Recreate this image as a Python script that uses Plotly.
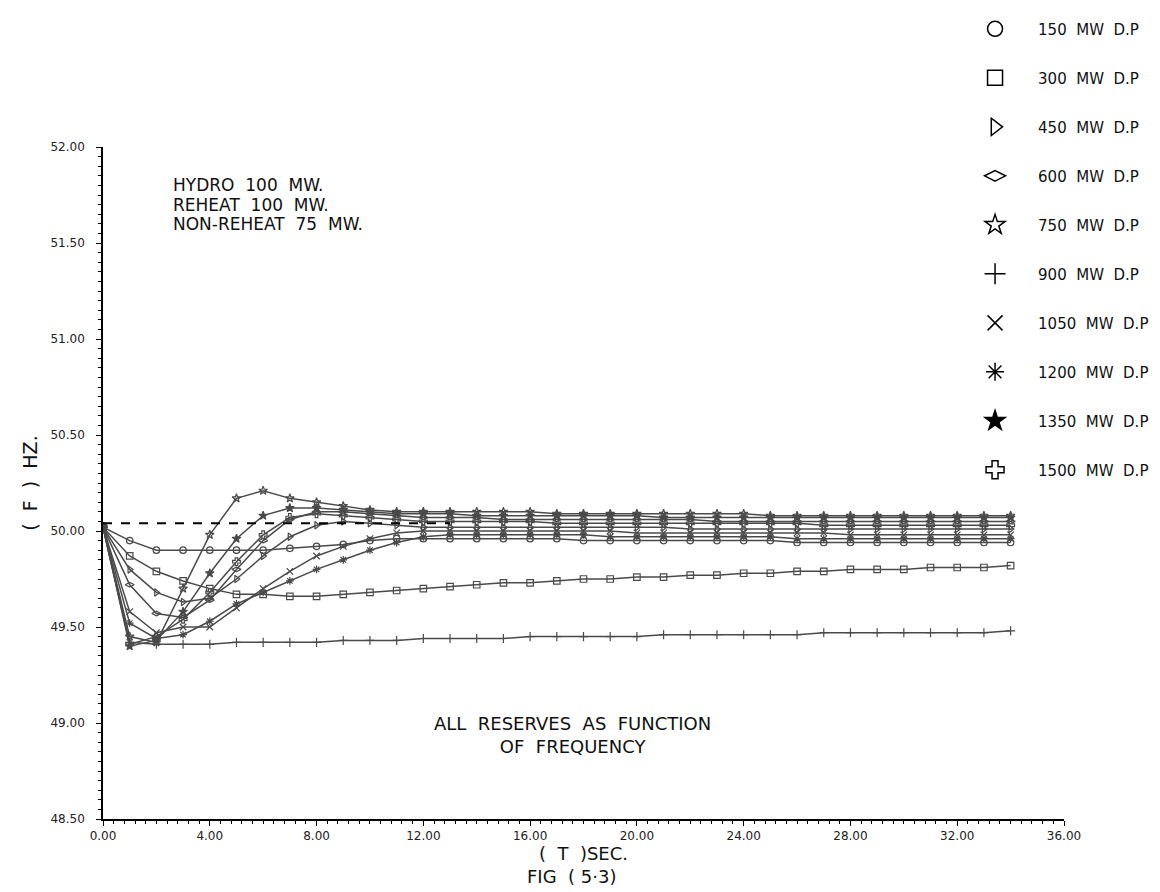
import plotly.graph_objects as go

# time axis, one reading per second
t_sec = list(range(35))

# frequency (Hz) for each disturbance power (MW D.P)
f_150 = [50.02, 49.95, 49.90, 49.90, 49.90, 49.90, 49.90, 49.91, 49.92, 49.93, 49.95, 49.96, 49.96,
         49.96, 49.96, 49.96, 49.96, 49.96, 49.95, 49.95, 49.95, 49.95, 49.95, 49.95, 49.95, 49.95,
         49.94, 49.94, 49.94, 49.94, 49.94, 49.94, 49.94, 49.94, 49.94]
f_300 = [50.02, 49.87, 49.79, 49.74, 49.70, 49.67, 49.67, 49.66, 49.66, 49.67, 49.68, 49.69, 49.70,
         49.71, 49.72, 49.73, 49.73, 49.74, 49.75, 49.75, 49.76, 49.76, 49.77, 49.77, 49.78, 49.78,
         49.79, 49.79, 49.80, 49.80, 49.80, 49.81, 49.81, 49.81, 49.82]
f_450 = [50.02, 49.80, 49.68, 49.63, 49.65, 49.75, 49.87, 49.97, 50.03, 50.05, 50.04, 50.03, 50.02,
         50.02, 50.02, 50.02, 50.02, 50.02, 50.02, 50.02, 50.02, 50.02, 50.01, 50.01, 50.01, 50.01,
         50.01, 50.01, 50.01, 50.01, 50.01, 50.01, 50.01, 50.01, 50.01]
f_600 = [50.02, 49.72, 49.57, 49.55, 49.64, 49.80, 49.95, 50.06, 50.10, 50.10, 50.09, 50.08, 50.07,
         50.07, 50.07, 50.06, 50.06, 50.06, 50.06, 50.06, 50.06, 50.06, 50.06, 50.05, 50.05, 50.05,
         50.05, 50.05, 50.05, 50.05, 50.05, 50.05, 50.05, 50.05, 50.05]
f_750 = [50.02, 49.45, 49.42, 49.70, 49.98, 50.17, 50.21, 50.17, 50.15, 50.13, 50.11, 50.10, 50.10,
         50.10, 50.10, 50.10, 50.10, 50.09, 50.09, 50.09, 50.09, 50.09, 50.09, 50.09, 50.09, 50.08,
         50.08, 50.08, 50.08, 50.08, 50.08, 50.08, 50.08, 50.08, 50.08]
f_900 = [50.02, 49.42, 49.41, 49.41, 49.41, 49.42, 49.42, 49.42, 49.42, 49.43, 49.43, 49.43, 49.44,
         49.44, 49.44, 49.44, 49.45, 49.45, 49.45, 49.45, 49.45, 49.46, 49.46, 49.46, 49.46, 49.46,
         49.46, 49.47, 49.47, 49.47, 49.47, 49.47, 49.47, 49.47, 49.48]
f_1050 = [50.02, 49.58, 49.47, 49.50, 49.50, 49.60, 49.70, 49.79, 49.87, 49.92, 49.96, 49.99, 50.00,
          50.00, 50.00, 50.00, 50.00, 50.00, 50.00, 50.00, 49.99, 49.99, 49.99, 49.99, 49.99, 49.99,
          49.99, 49.99, 49.98, 49.98, 49.98, 49.98, 49.98, 49.98, 49.98]
f_1200 = [50.02, 49.52, 49.44, 49.46, 49.53, 49.62, 49.68, 49.74, 49.80, 49.85, 49.90, 49.94, 49.97,
          49.98, 49.98, 49.98, 49.98, 49.98, 49.98, 49.97, 49.97, 49.97, 49.97, 49.97, 49.97, 49.97,
          49.96, 49.96, 49.96, 49.96, 49.96, 49.96, 49.96, 49.96, 49.96]
f_1350 = [50.02, 49.40, 49.43, 49.58, 49.78, 49.96, 50.08, 50.12, 50.12, 50.11, 50.10, 50.09, 50.09,
          50.09, 50.08, 50.08, 50.08, 50.08, 50.08, 50.08, 50.08, 50.07, 50.07, 50.07, 50.07, 50.07,
          50.07, 50.07, 50.07, 50.07, 50.07, 50.07, 50.07, 50.07, 50.07]
f_1500 = [50.02, 49.41, 49.45, 49.54, 49.68, 49.84, 49.98, 50.07, 50.09, 50.08, 50.07, 50.06, 50.05,
          50.05, 50.05, 50.05, 50.05, 50.04, 50.04, 50.04, 50.04, 50.04, 50.04, 50.04, 50.04, 50.04,
          50.04, 50.03, 50.03, 50.03, 50.03, 50.03, 50.03, 50.03, 50.03]

dp_mw = [150, 300, 450, 600, 750, 900, 1050, 1200, 1350, 1500]
freqs = [f_150, f_300, f_450, f_600, f_750, f_900, f_1050, f_1200, f_1350, f_1500]
symbols = ['circle-open', 'square-open', 'triangle-right-open', 'diamond-wide-open', 'star-open',
           'cross-thin-open', 'x-thin-open', 'asterisk-open', 'star', 'cross-open']

nominal_t = [0, 13]
nominal_f = 50.04

curve_col = '#4a4a4a'
font_main = 'DejaVu Sans'
sp = '\u00a0'

fig = go.Figure()

for mw, f, sym in zip(dp_mw, freqs, symbols):
    fig.add_trace(go.Scatter(
        x=t_sec, y=f,
        mode='lines+markers',
        line=dict(color=curve_col, width=1.5),
        marker=dict(symbol=sym, size=6.5, color=curve_col, line=dict(color=curve_col, width=1.2)),
        showlegend=False,
        hoverinfo='skip',
    ))

# legend-only entries (big open symbols like the plotter key)
for mw, sym in zip(dp_mw, symbols):
    fig.add_trace(go.Scatter(
        x=[None], y=[None],
        mode='markers',
        name=f'{mw}{sp*2}MW{sp*2}D.P',
        legendgroup=str(mw),
        marker=dict(symbol=sym, size=15, color='black', line=dict(color='black', width=1.5)),
    ))

fig.add_shape(type='line', xref='x', yref='y',
              x0=nominal_t[0], x1=nominal_t[1], y0=nominal_f, y1=nominal_f,
              line=dict(color='black', width=2, dash='dash'))

hdr_font = dict(family=font_main, size=17, color='#111111')
for txt, yy in [('HYDRO  100  MW.', 51.80), ('REHEAT  100  MW.', 51.70), ('NON-REHEAT  75  MW.', 51.60)]:
    fig.add_annotation(x=2.55, y=yy, xref='x', yref='y', text=txt, showarrow=False,
                       xanchor='left', yanchor='middle', font=hdr_font)

fig.add_annotation(x=17.6, y=48.94, xref='x', yref='y',
                   text=f'ALL{sp*2}RESERVES{sp*2}AS{sp*2}FUNCTION<br>OF{sp*2}FREQUENCY',
                   showarrow=False, align='center',
                   font=dict(family=font_main, size=18, color='#111111'))

fig.add_annotation(x=0.487, y=-0.086, xref='paper', yref='paper', yanchor='middle',
                   text=f'FIG{sp*2}({sp}5·3)',
                   showarrow=False, font=dict(family=font_main, size=18, color='#111111'))

fig.update_layout(
    width=1160, height=892,
    margin=dict(l=95, r=104, t=139, b=81, autoexpand=False),
    paper_bgcolor='white', plot_bgcolor='white',
    font=dict(family=font_main, color='#111111'),
    showlegend=True,
    legend=dict(x=0.8835, xanchor='left', y=1.2, yanchor='top',
                font=dict(family=font_main, size=15, color='#111111'),
                itemwidth=76, maxheight=700,
                tracegroupgap=26.5, bgcolor='rgba(0,0,0,0)', itemsizing='trace'),
    xaxis=dict(range=[0, 36], tick0=0, dtick=4, tickformat='.2f',
               ticks='outside', ticklen=5, tickcolor='black', tickwidth=1,
               showline=True, linecolor='black', linewidth=1.5,
               showgrid=False, zeroline=False,
               minor=dict(dtick=0.4, ticks='outside', ticklen=3, tickcolor='black', showgrid=False),
               tickfont=dict(family=font_main, size=12, color='#222222'),
               ticklabelstandoff=0,
               title=dict(text=f'({sp*2}T{sp*2})SEC.', font=dict(family=font_main, size=18), standoff=0)),
    yaxis=dict(range=[48.5, 52], tick0=48.5, dtick=0.5, tickformat='.2f',
               ticks='outside', ticklen=5, tickcolor='black', tickwidth=1,
               showline=True, linecolor='black', linewidth=1.5,
               showgrid=False, zeroline=False,
               minor=dict(dtick=0.05, ticks='outside', ticklen=3, tickcolor='black', showgrid=False),
               tickfont=dict(family=font_main, size=12, color='#222222'),
               ticklabelstandoff=9,
               title=dict(text=f'({sp*2}F{sp*2}){sp*2}HZ.', font=dict(family=font_main, size=19), standoff=8)),
)

fig.write_html('out.html')
